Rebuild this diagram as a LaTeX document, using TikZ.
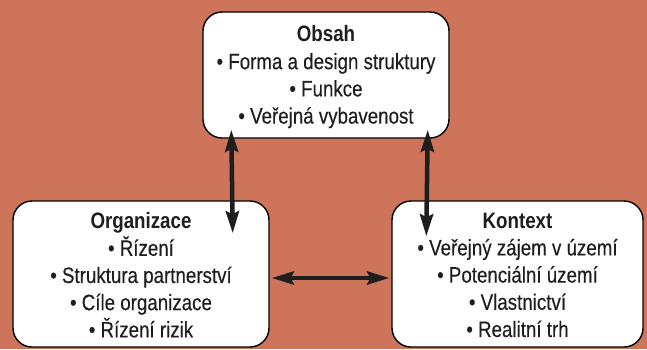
\documentclass[tikz,border=0pt]{standalone}
\usepackage{fontspec}
\setmainfont[FakeStretch=0.84,UprightFeatures={FakeBold=0.25}]{Liberation Sans}
\usetikzlibrary{arrows.meta}
\definecolor{terracotta}{RGB}{206,116,91}
\definecolor{ink}{RGB}{30,30,30}
\begin{document}
\begin{tikzpicture}[x=1pt,y=-1pt,
  panel/.style={draw=black,line width=1.4pt,fill=white,rounded corners=19pt,inner sep=0pt},
  body/.style={inner sep=0pt,align=center,text=ink,
    font={\fontsize{22.3}{27.2}\selectfont}},
  link/.style={line width=4.5pt,draw=ink,
    {Stealth[length=22pt,width=13pt,inset=3pt]}-{Stealth[length=22pt,width=13pt,inset=3pt]}}]
  % background
  \fill[terracotta] (0,0) rectangle (647,349);
  \useasboundingbox (0,0) rectangle (647,349);
  % the three panels
  \node[panel,minimum width=246pt,minimum height=126pt] (content) at (326,75) {};
  \node[panel,minimum width=256pt,minimum height=146pt] (org) at (141,274) {};
  \node[panel,minimum width=251pt,minimum height=146pt] (ctx) at (517.5,274) {};
  % their texts
  \node[body] (content-text) at ([yshift=-2pt]content.center)
    {\textbf{Obsah}\\ • Forma a design struktury\\ • Funkce\\ • Veřejná vybavenost};
  \node[body] (org-text) at ([yshift=-1pt]org.center)
    {\textbf{Organizace}\\ • Řízení\\ • Struktura partnerství\\ • Cíle organizace\\ • Řízení rizik};
  \node[body] (ctx-text) at ([yshift=-1pt]ctx.center)
    {\textbf{Kontext}\\ • Veřejný zájem v území\\ • Potenciální území\\ • Vlastnictví\\ • Realitní trh};
  % two-way links between the panels
  \draw[link] ([xshift=29pt,yshift=9pt]content.south west) -- ([xshift=-37pt,yshift=-33pt]org.north east);
  \draw[link] ([xshift=-22pt,yshift=9pt]content.south east) -- ([xshift=35pt,yshift=-36pt]ctx.north west);
  \draw[link] ([xshift=2pt,yshift=-4pt]org.east) -- ([xshift=-2pt,yshift=-4pt]ctx.west);
\end{tikzpicture}
\end{document}
